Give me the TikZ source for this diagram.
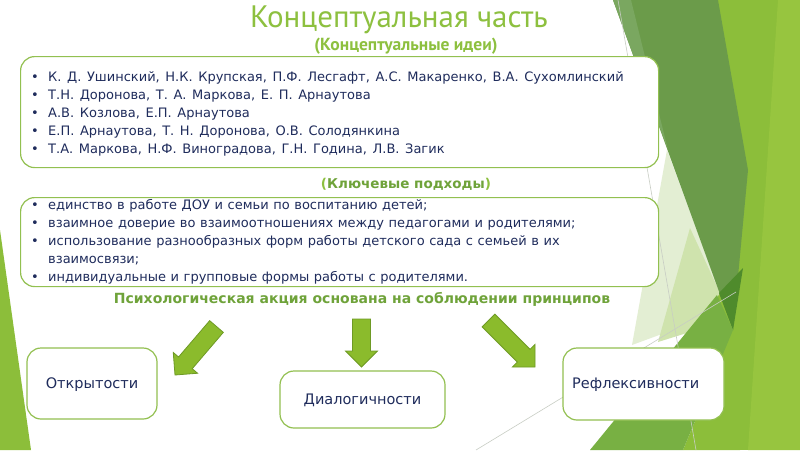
\documentclass[tikz,border=0pt]{standalone}
\usepackage{fontspec}
\setmainfont{DejaVu Sans}
\newfontfamily\titlefont{PT Sans}
\usetikzlibrary{calc}
\definecolor{navy}{HTML}{1F2C5C}
\definecolor{tgreen}{HTML}{8DC03F}
\definecolor{hgreen}{HTML}{6FA33A}
\definecolor{bgreen}{HTML}{92C050}
\definecolor{agreen}{HTML}{8BBB2C}
\definecolor{aedge}{HTML}{6E9A25}
\definecolor{bgbright}{HTML}{8CBE3A}
\definecolor{bglight}{HTML}{97C53F}
\definecolor{bgdark}{HTML}{6B9B4A}
\definecolor{bgstrip}{HTML}{7AA760}
\definecolor{bgdarker}{HTML}{4F8B2C}
\definecolor{bgmed}{HTML}{78B043}
\definecolor{bgpale}{HTML}{E3EED3}
\definecolor{bgpale2}{HTML}{CFE3AD}
\definecolor{gline}{HTML}{C8CDC4}
\tikzset{
  panel/.style={draw=bgreen, line width=1.2pt, rounded corners=14pt, fill=white, inner sep=0pt},
  item/.style={anchor=base west, inner sep=0pt, text=navy, font=\fontsize{13}{15}\selectfont},
  label/.style={inner sep=0pt, text=navy, font=\fontsize{14.5}{17}\selectfont},
  blk/.style={fill=agreen, draw=aedge, line width=0.8pt, line join=miter},
}
\newcommand{\blkarrow}[2]{%
  \coordinate (#1base) at ($(#2)!16pt!(#1)$);
  \path[blk] ($(#1)!9pt!90:(#2)$) -- ($(#1base)!9pt!90:(#2)$) -- ($(#1base)!16pt!90:(#2)$)
    -- (#2) -- ($(#1base)!16pt!-90:(#2)$) -- ($(#1base)!9pt!-90:(#2)$) -- ($(#1)!9pt!-90:(#2)$) -- cycle;
}
\newcommand{\bul}{\makebox[17pt][l]{\textbullet}}
\begin{document}
\begin{tikzpicture}[x=1pt,y=-1pt]
\useasboundingbox (0,0) rectangle (800,450);
\fill[white] (0,0) rectangle (800,450);
% background decoration
\fill[bgbright] (718,0) rectangle (800,450);
\fill[bgbright] (683,450) -- (733,330) -- (740,300) -- (740,450) -- cycle;
\fill[bglight] (778,0) -- (800,0) -- (800,450) -- (748,450) -- cycle;
\fill[bgpale] (667,150) -- (720,293) -- (700,320) -- (632,345) -- cycle;
\fill[bgpale2] (690,228) -- (720,293) -- (690,332) -- (658,342) -- cycle;
\fill[bgdark] (613,0) -- (718,0) -- (748,170) -- (733,330) -- cycle;
\fill[bgstrip] (613,0) -- (631,0) -- (668,150) -- cycle;
\fill[bgdarker] (719,293) -- (743,268) -- (733,330) -- cycle;
\fill[bgmed] (590,450) -- (717,295) -- (733,330) -- (683,450) -- cycle;
\fill[bgbright] (0,230) -- (31,450) -- (0,450) -- cycle;
\draw[gline, line width=0.6pt] (618,0) -- (696,450);
\draw[gline, line width=0.6pt] (476,450) -- (736,292);
% titles
\node[anchor=base, inner sep=0pt, text=tgreen, font=\titlefont\fontsize{31}{34}\selectfont] (title) at (399,27) {Концептуальная часть};
\node[anchor=base, inner sep=0pt, text=tgreen, font=\titlefont\bfseries\fontsize{17.5}{20}\selectfont] (sub) at (406,50) {(Концептуальные идеи)};
% box 1
\node[panel, anchor=north west, minimum width=638pt, minimum height=111pt] (b1) at (20,56) {};
\begin{scope}[every node/.append style={execute at begin node={\spaceskip=5.6pt plus 1pt}}]
\node[item] (a1) at (31,81) {\bul К. Д. Ушинский, Н.К. Крупская, П.Ф. Лесгафт, А.С. Макаренко, В.А. Сухомлинский};
\node[item] (a2) at (31,99.1) {\bul Т.Н. Доронова, Т. А. Маркова, Е. П. Арнаутова};
\node[item] (a3) at (31,117.2) {\bul А.В. Козлова, Е.П. Арнаутова};
\node[item] (a4) at (31,135.3) {\bul Е.П. Арнаутова, Т. Н. Доронова, О.В. Солодянкина};
\node[item] (a5) at (31,153.4) {\bul Т.А. Маркова, Н.Ф. Виноградова, Г.Н. Година, Л.В. Загик};
\end{scope}
% key approaches
\node[anchor=base, inner sep=0pt, font=\bfseries\fontsize{13.5}{16}\selectfont] (kp) at (406,188) {\textcolor{tgreen}{(}\textcolor{hgreen}{Ключевые подходы}\textcolor{tgreen}{)}};
\node[panel, anchor=north west, minimum width=638pt, minimum height=89pt] (b2) at (20,197) {};
\begin{scope}[every node/.append style={execute at begin node={\spaceskip=4.6pt plus 1pt}}]
\node[item] (c1) at (31,209.5) {\bul единство в работе ДОУ и семьи по воспитанию детей;};
\node[item] (c2) at (31,227.6) {\bul взаимное доверие во взаимоотношениях между педагогами и родителями;};
\node[item] (c3) at (31,245.7) {\bul использование разнообразных форм работы детского сада с семьей в их};
\node[item] (c4) at (31,263.8) {\makebox[17pt][l]{}взаимосвязи;};
\node[item] (c5) at (31,281.9) {\bul индивидуальные и групповые формы работы с родителями.};
\end{scope}
\node[anchor=base, inner sep=0pt, text=hgreen, font=\bfseries\fontsize{14}{17}\selectfont] (psy) at (362,303) {Психологическая акция основана на соблюдении принципов};
% arrows
\coordinate (t1) at (216.5,326.5); \coordinate (p1) at (175,375);
\coordinate (t2) at (361.5,319);   \coordinate (p2) at (361.5,367);
\coordinate (t3) at (488.5,320.5); \coordinate (p3) at (535,367);
\blkarrow{t1}{p1}
\blkarrow{t2}{p2}
\blkarrow{t3}{p3}
% principle boxes
\node[panel, minimum width=130pt, minimum height=71pt] (o) at (92,383.5) {};
\node[label] (ot) at (92,385) {Открытости};
\node[panel, minimum width=165pt, minimum height=57pt] (d) at (362.5,399.5) {};
\node[label] (dt) at (362.5,400) {Диалогичности};
\node[panel, minimum width=161pt, minimum height=72pt] (r) at (643.5,384) {};
\node[label, anchor=west] (rt) at (572,385) {Рефлексивности};
\end{tikzpicture}
\end{document}
